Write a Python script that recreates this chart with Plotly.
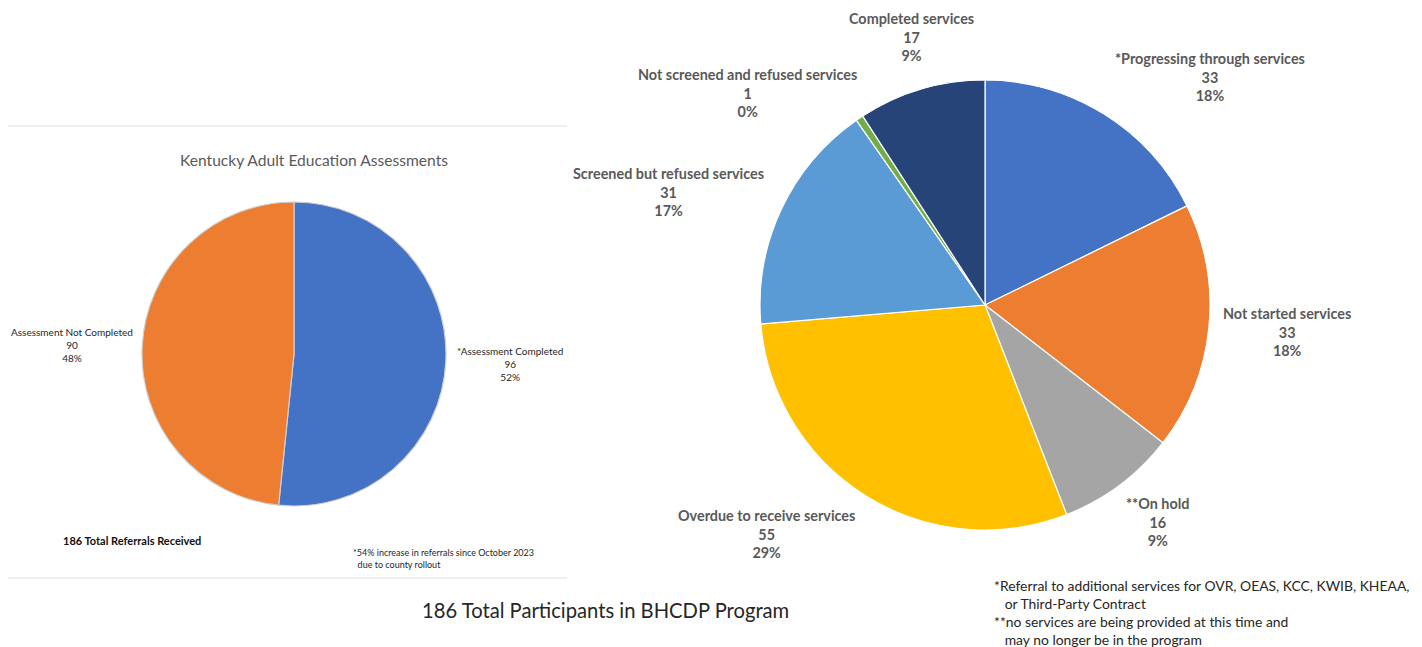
import plotly.graph_objects as go

# page body has an 8px margin; size the figure to fill the rest of the window
OFF = 8
W, H = 1422 - OFF, 647 - OFF

# ---- Data ----
left_labels = ["*Assessment Completed", "Assessment Not Completed"]
left_values = [96, 90]
left_pcts = ["52%", "48%"]
left_colors = ["#4472C4", "#ED7D31"]

right_labels = ["*Progressing through services", "Not started services", "**On hold",
                "Overdue to receive services", "Screened but refused services",
                "Not screened and refused services", "Completed services"]
right_values = [33, 33, 16, 55, 31, 1, 17]
right_pcts = ["18%", "18%", "9%", "29%", "17%", "0%", "9%"]
right_colors = ["#4472C4", "#ED7D31", "#A5A5A5", "#FFC000", "#5B9BD5", "#70AD47", "#264478"]


def px(x):
    return (x - OFF) / W


def py(y):
    return 1 - (y - OFF) / H


fig = go.Figure()

fig.add_trace(go.Pie(
    labels=left_labels, values=left_values, sort=False, direction="clockwise", rotation=0,
    marker=dict(colors=left_colors, line=dict(color="#cfcfcf", width=1.2)),
    textinfo="none", hoverinfo="label+value+percent", showlegend=False,
    domain=dict(x=[px(142), px(446)], y=[py(506), py(202)]),
))

fig.add_trace(go.Pie(
    labels=right_labels, values=right_values, sort=False, direction="clockwise", rotation=0,
    marker=dict(colors=right_colors, line=dict(color="#ffffff", width=1.2)),
    textinfo="none", hoverinfo="label+value+percent", showlegend=False,
    domain=dict(x=[px(760), px(1210)], y=[py(530), py(80)]),
))

annotations = []

# Left chart title
annotations.append(dict(x=px(314), y=py(160), text="Kentucky Adult Education Assessments",
                        font=dict(family="Lato", size=15.6, color="#595959"),
                        showarrow=False, xanchor="center", yanchor="middle"))

# Left pie labels
left_pos = [(510, 364), (72, 345)]
for lab, v, p, (x, y) in zip(left_labels, left_values, left_pcts, left_pos):
    annotations.append(dict(x=px(x), y=py(y), text=f"{lab}<br>{v}<br>{p}",
                            font=dict(family="Lato", size=10, color="#262626"),
                            showarrow=False, xanchor="center", yanchor="middle", align="center"))

annotations.append(dict(x=px(61), y=py(540), text="<b>186 Total Referrals Received</b>",
                        font=dict(family="Lato", size=11, color="#111111"),
                        showarrow=False, xanchor="left", yanchor="middle"))
annotations.append(dict(x=px(351), y=py(558),
                        text="*54% increase in referrals since October 2023<br>  due to county rollout",
                        font=dict(family="Lato", size=9, color="#262626"),
                        showarrow=False, xanchor="left", yanchor="middle", align="left"))

# Right pie labels
right_pos = [(1210, 77), (1287, 332), (1157, 522), (766, 534), (668, 192), (747, 93), (911, 37)]
for lab, v, p, (x, y) in zip(right_labels, right_values, right_pcts, right_pos):
    annotations.append(dict(x=px(x), y=py(y), text=f"<b>{lab}<br>{v}<br>{p}</b>",
                            font=dict(family="Lato", size=14.4, color="#595959"),
                            showarrow=False, xanchor="center", yanchor="middle", align="center"))

# Main caption
annotations.append(dict(x=px(605), y=py(610), text="186 Total Participants in BHCDP Program",
                        font=dict(family="Lato", size=20.2, color="#262626"),
                        showarrow=False, xanchor="center", yanchor="middle"))

# Footnotes
annotations.append(dict(x=px(992), y=py(612),
                        text="*Referral to additional services for OVR, OEAS, KCC, KWIB, KHEAA,<br>"
                             "   or Third-Party Contract<br>"
                             "**no services are being provided at this time and<br>"
                             "   may no longer be in the program",
                        font=dict(family="Lato", size=13.9, color="#262626"),
                        showarrow=False, xanchor="left", yanchor="middle", align="left"))

shapes = [
    dict(type="line", xref="paper", yref="paper", x0=0, x1=px(567), y0=py(126), y1=py(126),
         line=dict(color="#e0e0e0", width=1)),
    dict(type="line", xref="paper", yref="paper", x0=0, x1=px(567), y0=py(578), y1=py(578),
         line=dict(color="#e0e0e0", width=1)),
]

fig.update_layout(
    width=W, height=H, margin=dict(l=0, r=0, t=0, b=0),
    paper_bgcolor="white", plot_bgcolor="white",
    annotations=annotations, shapes=shapes,
)

fig.write_html("out.html")
